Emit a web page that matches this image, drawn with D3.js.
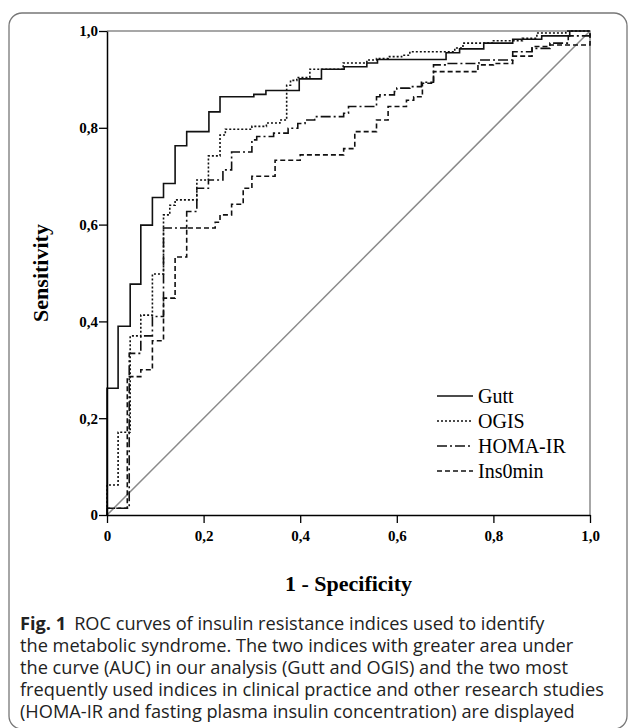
<!DOCTYPE html>
<html>
<head>
<meta charset="utf-8">
<script src="https://cdn.jsdelivr.net/npm/d3@7"></script>
<style>
  body { margin: 0; background: #fff; }
  svg { display: block; }
</style>
</head>
<body>
<svg id="grafica"></svg>
<script>
// Curvas ROC de índices de resistencia a la insulina (Fig. 1)

const svg_w = 629;
const svg_h = 728;

// márgenes del área de la gráfica
const margin = {l:107, r:39, t:31, b:213};
const viz_w = svg_w - margin.l - margin.r;
const viz_h = svg_h - margin.t - margin.b;

// puntos de la curva ROC (1 - especificidad, sensibilidad)
const gutt_fpr = [0, 0, 0.023, 0.048, 0.070, 0.094, 0.117, 0.141, 0.165, 0.211, 0.234, 0.304, 0.329, 0.398, 0.444, 0.491, 0.538, 0.560, 0.702, 0.730, 0.780, 0.840, 0.900, 0.958, 1];
const gutt_tpr = [0, 0.262, 0.390, 0.477, 0.599, 0.656, 0.685, 0.763, 0.792, 0.833, 0.864, 0.869, 0.877, 0.901, 0.921, 0.926, 0.934, 0.941, 0.955, 0.963, 0.975, 0.983, 0.990, 1, 1];

const ogis_fpr = [0, 0, 0.023, 0.048, 0.070, 0.094, 0.117, 0.130, 0.141, 0.186, 0.210, 0.234, 0.245, 0.300, 0.330, 0.358, 0.372, 0.380, 0.393, 0.420, 0.489, 0.538, 0.558, 0.582, 0.610, 0.627, 0.720, 0.737, 0.800, 0.860, 0.890, 0.950, 1];
const ogis_tpr = [0, 0.062, 0.171, 0.370, 0.413, 0.498, 0.620, 0.640, 0.651, 0.692, 0.742, 0.785, 0.797, 0.803, 0.810, 0.816, 0.888, 0.898, 0.904, 0.921, 0.934, 0.940, 0.943, 0.947, 0.950, 0.957, 0.965, 0.975, 0.980, 0.985, 0.996, 1, 1];

const homa_fpr = [0, 0, 0.046, 0.070, 0.094, 0.117, 0.165, 0.186, 0.210, 0.240, 0.258, 0.300, 0.310, 0.345, 0.375, 0.395, 0.410, 0.430, 0.490, 0.500, 0.558, 0.565, 0.595, 0.600, 0.627, 0.651, 0.676, 0.700, 0.770, 0.840, 0.880, 0.917, 0.955, 1];
const homa_tpr = [0, 0.014, 0.334, 0.370, 0.410, 0.593, 0.627, 0.675, 0.692, 0.713, 0.750, 0.775, 0.782, 0.789, 0.799, 0.809, 0.816, 0.823, 0.830, 0.844, 0.864, 0.868, 0.875, 0.882, 0.885, 0.894, 0.930, 0.933, 0.940, 0.957, 0.964, 0.975, 0.990, 1];

const ins_fpr = [0, 0, 0.042, 0.070, 0.094, 0.117, 0.141, 0.165, 0.224, 0.234, 0.258, 0.282, 0.300, 0.348, 0.400, 0.490, 0.513, 0.558, 0.582, 0.620, 0.635, 0.653, 0.676, 0.768, 0.800, 0.840, 0.880, 0.917, 1];
const ins_tpr = [0, 0.014, 0.286, 0.300, 0.360, 0.448, 0.533, 0.593, 0.605, 0.620, 0.642, 0.675, 0.700, 0.733, 0.744, 0.757, 0.792, 0.816, 0.844, 0.857, 0.864, 0.892, 0.916, 0.930, 0.933, 0.948, 0.968, 0.971, 1];

const series_names = ["Gutt", "OGIS", "HOMA-IR", "Ins0min"];
const tick_values = [0, 0.2, 0.4, 0.6, 0.8, 1.0];
const tick_labels = ["0", "0,2", "0,4", "0,6", "0,8", "1,0"];

const caption_lines = [
  "the metabolic syndrome. The two indices with greater area under",
  "the curve (AUC) in our analysis (Gutt and OGIS) and the two most",
  "frequently used indices in clinical practice and other research studies",
  "(HOMA-IR and fasting plasma insulin concentration) are displayed"
];

const series = [
  {name: series_names[0], x: gutt_fpr, y: gutt_tpr, dash: null},
  {name: series_names[1], x: ogis_fpr, y: ogis_tpr, dash: "2,2"},
  {name: series_names[2], x: homa_fpr, y: homa_tpr, dash: "10,3,2,3"},
  {name: series_names[3], x: ins_fpr, y: ins_tpr, dash: "5,3"}
];

let svg = d3.select("#grafica")
  .attr("width", svg_w)
  .attr("height", svg_h)

// marco redondeado de la figura
svg.append("rect")
  .attr("x", 9).attr("y", 13)
  .attr("width", 618).attr("height", 716)
  .attr("rx", 13)
  .attr("fill", "none")
  .attr("stroke", "#777")
  .attr("stroke-width", 1.3)

let x_scale = d3.scaleLinear().domain([0,1]).range([0, viz_w])
let y_scale = d3.scaleLinear().domain([0,1]).range([viz_h, 0])

let plot = svg.append("g")
  .attr("transform", `translate(${margin.l},${margin.t})`)

// marco gris superior y derecho
plot.append("path")
  .attr("d", `M0,0H${viz_w}V${viz_h}`)
  .attr("fill", "none")
  .attr("stroke", "#8a8a8a")
  .attr("stroke-width", 1.5)

// línea de referencia
plot.append("line")
  .attr("x1", x_scale(0)).attr("y1", y_scale(0))
  .attr("x2", x_scale(1)).attr("y2", y_scale(1))
  .attr("stroke", "#8a8a8a")
  .attr("stroke-width", 1.5)

let line = d3.line()
  .x(d => x_scale(d[0]))
  .y(d => y_scale(d[1]))
  .curve(d3.curveStepAfter)

plot.append("g")
  .selectAll("path")
  .data(series)
  .enter().append("path")
  .attr("d", d => line(d.x.map((v,i) => [v, d.y[i]])))
  .attr("fill", "none")
  .attr("stroke", "#111")
  .attr("stroke-width", 1.6)
  .attr("stroke-dasharray", d => d.dash)

// ejes
let fmt = v => tick_labels[tick_values.indexOf(v)]

let x_axis = plot.append("g")
  .attr("transform", `translate(0,${viz_h})`)
  .call(d3.axisBottom(x_scale).tickValues(tick_values).tickFormat(fmt).tickSize(8).tickSizeOuter(0))

let y_axis = plot.append("g")
  .call(d3.axisLeft(y_scale).tickValues(tick_values).tickFormat(fmt).tickSize(8).tickSizeOuter(0))

;[x_axis, y_axis].forEach(ax => {
  ax.select(".domain").attr("stroke", "#000").attr("stroke-width", 1.5)
  ax.selectAll(".tick line").attr("stroke", "#000").attr("stroke-width", 1.3)
  ax.selectAll(".tick text")
    .attr("font-family", "'Liberation Serif', serif")
    .attr("font-weight", "bold")
    .attr("font-size", 15)
    .attr("fill", "#000")
})
x_axis.selectAll(".tick text").attr("dy", "1.0em")
y_axis.selectAll(".tick text").attr("x", -9)

// títulos de ejes
svg.append("text")
  .attr("transform", `translate(${margin.l + viz_w/2},${margin.t + viz_h + 76})`)
  .attr("text-anchor", "middle")
  .attr("font-family", "'Liberation Serif', serif")
  .attr("font-weight", "bold")
  .attr("font-size", 22)
  .text("1 - Specificity")

svg.append("text")
  .attr("transform", `translate(48,${margin.t + viz_h/2}) rotate(-90)`)
  .attr("text-anchor", "middle")
  .attr("font-family", "'Liberation Serif', serif")
  .attr("font-weight", "bold")
  .attr("font-size", 22)
  .text("Sensitivity")

// leyenda
let legend = svg.append("g")
  .selectAll("g")
  .data(series)
  .enter().append("g")
  .attr("transform", (d,i) => `translate(437,${396 + i*25})`)

legend.append("line")
  .attr("x1", 0).attr("x2", 36)
  .attr("stroke", "#111")
  .attr("stroke-width", 1.6)
  .attr("stroke-dasharray", d => d.dash)

legend.append("text")
  .attr("x", 41)
  .attr("dy", "0.33em")
  .attr("font-family", "'Liberation Serif', serif")
  .attr("font-size", 20)
  .text(d => d.name)

// pie de figura
let caption = svg.append("g")
  .attr("font-family", "'Open Sans', sans-serif")
  .attr("font-size", 18.2)
  .attr("fill", "#222")

let first = caption.append("text").attr("x", 20).attr("y", 630)
first.append("tspan").attr("font-weight", "bold").text("Fig. 1")
first.append("tspan").attr("dx", 8).text("ROC curves of insulin resistance indices used to identify")

caption.selectAll("text.linea")
  .data(caption_lines)
  .enter().append("text")
  .attr("class", "linea")
  .attr("x", 20)
  .attr("y", (d,i) => 652 + i*22)
  .text(d => d)
</script>
</body>
</html>
